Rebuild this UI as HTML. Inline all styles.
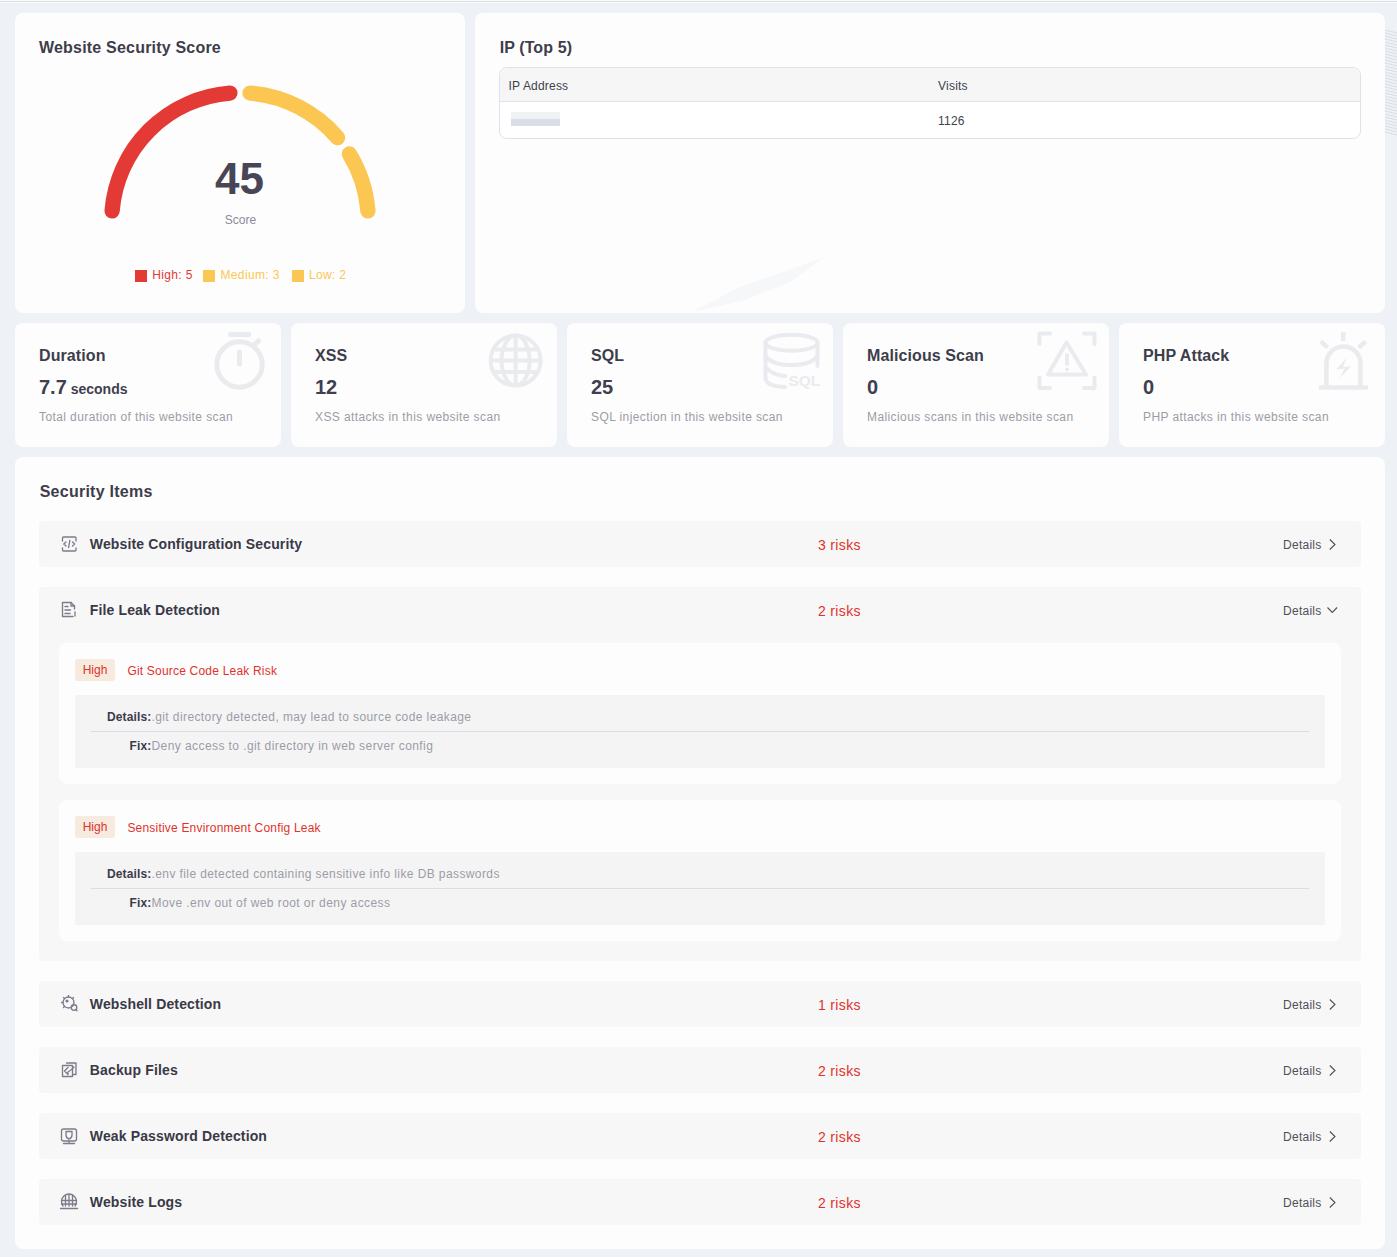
<!DOCTYPE html>
<html><head><meta charset="utf-8">
<style>
*{margin:0;padding:0;box-sizing:border-box}
html,body{width:1397px;height:1257px;overflow:hidden;background:#eef1f5;font-family:"Liberation Sans", sans-serif}
.t{position:absolute;white-space:nowrap}
.card{position:absolute;background:#fdfdfd;border-radius:8px}
.row{position:absolute;left:39px;width:1322px;background:#f7f7f7;border-radius:4px}
svg{position:absolute;left:0;top:0}
</style></head><body>
<div style="position:absolute;left:0;top:0;width:1397px;height:3px;background:#fafbfc"></div>
<div style="position:absolute;left:0;top:1px;width:1397px;height:1px;background:#dde1e6"></div>
<div class="card" style="left:15px;top:13px;width:450px;height:300px"></div>
<div class="card" style="left:475px;top:13px;width:910px;height:300px"></div>
<div class="card" style="left:15px;top:323px;width:266px;height:124px"></div>
<div class="card" style="left:291px;top:323px;width:266px;height:124px"></div>
<div class="card" style="left:567px;top:323px;width:266px;height:124px"></div>
<div class="card" style="left:843px;top:323px;width:266px;height:124px"></div>
<div class="card" style="left:1119px;top:323px;width:266px;height:124px"></div>
<div class="card" style="left:15px;top:457px;width:1370px;height:792px"></div>
<div class="t" style="left:39px;top:39.96px;font-size:16px;line-height:16px;color:#3d3d4b;font-weight:700;letter-spacing:0.2px;">Website Security Score</div>
<div class="t" style="left:215px;top:157.35px;font-size:44px;line-height:44px;color:#484656;font-weight:700;letter-spacing:0px;">45</div>
<div class="t" style="left:224.8px;top:213.64px;font-size:12px;line-height:12px;color:#8d8b9a;">Score</div>
<div style="position:absolute;left:135px;top:270px;width:12px;height:12px;background:#e43a35"></div>
<div class="t" style="left:152.2px;top:269.24px;font-size:12px;line-height:12px;color:#e43a35;letter-spacing:0.35px;">High: 5</div>
<div style="position:absolute;left:203px;top:270px;width:12px;height:12px;background:#fbc752"></div>
<div class="t" style="left:220.5px;top:269.24px;font-size:12px;line-height:12px;color:#fbc752;letter-spacing:0.35px;">Medium: 3</div>
<div style="position:absolute;left:291.6px;top:270px;width:12px;height:12px;background:#fbc752"></div>
<div class="t" style="left:308.9px;top:269.24px;font-size:12px;line-height:12px;color:#fbc752;letter-spacing:0.35px;">Low: 2</div>
<div class="t" style="left:499.7px;top:40.06px;font-size:16px;line-height:16px;color:#3d3d4b;font-weight:700;letter-spacing:0.1px;">IP (Top 5)</div>
<div style="position:absolute;left:499px;top:67px;width:862px;height:72px;border:1px solid #dde3ea;border-radius:8px;background:#fff;overflow:hidden"><div style="position:absolute;left:0;top:0;width:100%;height:34px;background:#f6f6f7;border-bottom:1px solid #dde3ea"></div></div>
<div class="t" style="left:508.5px;top:80.04px;font-size:12px;line-height:12px;color:#41414d;letter-spacing:0.2px;">IP Address</div>
<div class="t" style="left:938.1px;top:80.04px;font-size:12px;line-height:12px;color:#41414d;letter-spacing:0.2px;">Visits</div>
<div class="t" style="left:938.1px;top:115.04px;font-size:12px;line-height:12px;color:#41414d;letter-spacing:0.2px;">1126</div>
<div style="position:absolute;left:511px;top:112px;width:49px;height:7px;background:#f0f1f3"></div>
<div style="position:absolute;left:511px;top:119px;width:49px;height:7px;background:#d9dde5"></div>
<div class="t" style="left:39px;top:348.46px;font-size:16px;line-height:16px;color:#3d3d4b;font-weight:700;letter-spacing:0.1px;">Duration</div>
<div class="t" style="left:39px;top:376.87px;font-size:20px;line-height:20px;color:#3f3f4e;font-weight:700;">7.7<span style="font-size:14px"> seconds</span></div>
<div class="t" style="left:39px;top:410.84px;font-size:12px;line-height:12px;color:#9c9ca6;letter-spacing:0.4px;">Total duration of this website scan</div>
<div class="t" style="left:315px;top:348.46px;font-size:16px;line-height:16px;color:#3d3d4b;font-weight:700;letter-spacing:0.1px;">XSS</div>
<div class="t" style="left:315px;top:376.87px;font-size:20px;line-height:20px;color:#3f3f4e;font-weight:700;">12</div>
<div class="t" style="left:315px;top:410.84px;font-size:12px;line-height:12px;color:#9c9ca6;letter-spacing:0.4px;">XSS attacks in this website scan</div>
<div class="t" style="left:591px;top:348.46px;font-size:16px;line-height:16px;color:#3d3d4b;font-weight:700;letter-spacing:0.1px;">SQL</div>
<div class="t" style="left:591px;top:376.87px;font-size:20px;line-height:20px;color:#3f3f4e;font-weight:700;">25</div>
<div class="t" style="left:591px;top:410.84px;font-size:12px;line-height:12px;color:#9c9ca6;letter-spacing:0.4px;">SQL injection in this website scan</div>
<div class="t" style="left:867px;top:348.46px;font-size:16px;line-height:16px;color:#3d3d4b;font-weight:700;letter-spacing:0.1px;">Malicious Scan</div>
<div class="t" style="left:867px;top:376.87px;font-size:20px;line-height:20px;color:#3f3f4e;font-weight:700;">0</div>
<div class="t" style="left:867px;top:410.84px;font-size:12px;line-height:12px;color:#9c9ca6;letter-spacing:0.4px;">Malicious scans in this website scan</div>
<div class="t" style="left:1143px;top:348.46px;font-size:16px;line-height:16px;color:#3d3d4b;font-weight:700;letter-spacing:0.1px;">PHP Attack</div>
<div class="t" style="left:1143px;top:376.87px;font-size:20px;line-height:20px;color:#3f3f4e;font-weight:700;">0</div>
<div class="t" style="left:1143px;top:410.84px;font-size:12px;line-height:12px;color:#9c9ca6;letter-spacing:0.4px;">PHP attacks in this website scan</div>
<div class="t" style="left:39.7px;top:484.26px;font-size:16px;line-height:16px;color:#3d3d4b;font-weight:700;letter-spacing:0.25px;">Security Items</div>
<div class="row" style="top:521px;height:46px"></div>
<div class="t" style="left:89.8px;top:536.85px;font-size:14px;line-height:14px;color:#393947;font-weight:700;letter-spacing:0.14px;">Website Configuration Security</div>
<div class="t" style="left:818px;top:537.55px;font-size:14px;line-height:14px;color:#e1312b;letter-spacing:0.34px;">3 risks</div>
<div class="t" style="left:1283.1px;top:538.74px;font-size:12px;line-height:12px;color:#4f4f5a;letter-spacing:0.25px;">Details</div>
<div class="row" style="top:587px;height:374px"></div>
<div class="t" style="left:89.8px;top:602.85px;font-size:14px;line-height:14px;color:#393947;font-weight:700;letter-spacing:0.14px;">File Leak Detection</div>
<div class="t" style="left:818px;top:603.55px;font-size:14px;line-height:14px;color:#e1312b;letter-spacing:0.34px;">2 risks</div>
<div class="t" style="left:1283.1px;top:604.74px;font-size:12px;line-height:12px;color:#4f4f5a;letter-spacing:0.25px;">Details</div>
<div class="row" style="top:981px;height:46px"></div>
<div class="t" style="left:89.8px;top:996.85px;font-size:14px;line-height:14px;color:#393947;font-weight:700;letter-spacing:0.14px;">Webshell Detection</div>
<div class="t" style="left:818px;top:997.55px;font-size:14px;line-height:14px;color:#e1312b;letter-spacing:0.34px;">1 risks</div>
<div class="t" style="left:1283.1px;top:998.74px;font-size:12px;line-height:12px;color:#4f4f5a;letter-spacing:0.25px;">Details</div>
<div class="row" style="top:1047px;height:46px"></div>
<div class="t" style="left:89.8px;top:1062.85px;font-size:14px;line-height:14px;color:#393947;font-weight:700;letter-spacing:0.14px;">Backup Files</div>
<div class="t" style="left:818px;top:1063.55px;font-size:14px;line-height:14px;color:#e1312b;letter-spacing:0.34px;">2 risks</div>
<div class="t" style="left:1283.1px;top:1064.74px;font-size:12px;line-height:12px;color:#4f4f5a;letter-spacing:0.25px;">Details</div>
<div class="row" style="top:1113px;height:46px"></div>
<div class="t" style="left:89.8px;top:1128.85px;font-size:14px;line-height:14px;color:#393947;font-weight:700;letter-spacing:0.14px;">Weak Password Detection</div>
<div class="t" style="left:818px;top:1129.55px;font-size:14px;line-height:14px;color:#e1312b;letter-spacing:0.34px;">2 risks</div>
<div class="t" style="left:1283.1px;top:1130.74px;font-size:12px;line-height:12px;color:#4f4f5a;letter-spacing:0.25px;">Details</div>
<div class="row" style="top:1179px;height:46px"></div>
<div class="t" style="left:89.8px;top:1194.85px;font-size:14px;line-height:14px;color:#393947;font-weight:700;letter-spacing:0.14px;">Website Logs</div>
<div class="t" style="left:818px;top:1195.55px;font-size:14px;line-height:14px;color:#e1312b;letter-spacing:0.34px;">2 risks</div>
<div class="t" style="left:1283.1px;top:1196.74px;font-size:12px;line-height:12px;color:#4f4f5a;letter-spacing:0.25px;">Details</div>
<div style="position:absolute;left:59px;top:643px;width:1282px;height:141px;background:#fdfdfd;border-radius:8px"></div>
<div style="position:absolute;left:75px;top:659px;width:40px;height:22px;background:#f7ebdf;border-radius:2px"></div>
<div class="t" style="left:82.7px;top:663.59px;font-size:12px;line-height:12px;color:#e1312b;">High</div>
<div class="t" style="left:127.4px;top:665.04px;font-size:12px;line-height:12px;color:#e1312b;letter-spacing:0.2px;">Git Source Code Leak Risk</div>
<div style="position:absolute;left:75px;top:695px;width:1250px;height:73px;background:#f4f4f5"></div>
<div style="position:absolute;left:91px;top:731px;width:1218px;height:1px;background:#d8dee6"></div>
<div class="t" style="left:75px;top:711.34px;font-size:12px;line-height:12px;color:#3c3c4a;font-weight:700;width:76.5px;text-align:right;letter-spacing:0.15px;">Details:</div>
<div class="t" style="left:151.5px;top:711.34px;font-size:12px;line-height:12px;color:#9c9ca6;letter-spacing:0.4px;">.git directory detected, may lead to source code leakage</div>
<div class="t" style="left:75px;top:739.84px;font-size:12px;line-height:12px;color:#3c3c4a;font-weight:700;width:76.5px;text-align:right;letter-spacing:0.15px;">Fix:</div>
<div class="t" style="left:151.5px;top:739.84px;font-size:12px;line-height:12px;color:#9c9ca6;letter-spacing:0.42px;">Deny access to .git directory in web server config</div>
<div style="position:absolute;left:59px;top:800px;width:1282px;height:141px;background:#fdfdfd;border-radius:8px"></div>
<div style="position:absolute;left:75px;top:816px;width:40px;height:22px;background:#f7ebdf;border-radius:2px"></div>
<div class="t" style="left:82.7px;top:820.59px;font-size:12px;line-height:12px;color:#e1312b;">High</div>
<div class="t" style="left:127.4px;top:822.04px;font-size:12px;line-height:12px;color:#e1312b;letter-spacing:0.2px;">Sensitive Environment Config Leak</div>
<div style="position:absolute;left:75px;top:852px;width:1250px;height:73px;background:#f4f4f5"></div>
<div style="position:absolute;left:91px;top:888px;width:1218px;height:1px;background:#d8dee6"></div>
<div class="t" style="left:75px;top:868.34px;font-size:12px;line-height:12px;color:#3c3c4a;font-weight:700;width:76.5px;text-align:right;letter-spacing:0.15px;">Details:</div>
<div class="t" style="left:151.5px;top:868.34px;font-size:12px;line-height:12px;color:#9c9ca6;letter-spacing:0.4px;">.env file detected containing sensitive info like DB passwords</div>
<div class="t" style="left:75px;top:896.84px;font-size:12px;line-height:12px;color:#3c3c4a;font-weight:700;width:76.5px;text-align:right;letter-spacing:0.15px;">Fix:</div>
<div class="t" style="left:151.5px;top:896.84px;font-size:12px;line-height:12px;color:#9c9ca6;letter-spacing:0.42px;">Move .env out of web root or deny access</div>
<svg width="1397" height="1257" viewBox="0 0 1397 1257" style="pointer-events:none">
<path d="M112.10 210.93 A128.3 128.3 0 0 1 229.93 93.10" fill="none" stroke="#e43a35" stroke-width="15.3" stroke-linecap="round"/>
<path d="M250.07 93.10 A128.3 128.3 0 0 1 337.56 137.68" fill="none" stroke="#fbc752" stroke-width="15.3" stroke-linecap="round"/>
<path d="M349.39 153.96 A128.3 128.3 0 0 1 367.90 210.93" fill="none" stroke="#fbc752" stroke-width="15.3" stroke-linecap="round"/>
<g fill="none" stroke="#eaebee" stroke-width="5" stroke-linecap="round"><circle cx="239.5" cy="364.5" r="22.7"/><line x1="230.5" y1="334.5" x2="248.8" y2="334.5"/><line x1="239.5" y1="352" x2="239.5" y2="364"/><line x1="255" y1="344" x2="258.5" y2="341"/></g>
<g fill="none" stroke="#eaebee" stroke-width="4"><circle cx="515.6" cy="360.6" r="25"/><ellipse cx="515.6" cy="360.6" rx="14" ry="25"/><line x1="515.6" y1="335.6" x2="515.6" y2="385.6"/><line x1="490.6" y1="360.6" x2="540.6" y2="360.6"/><line x1="494" y1="349.5" x2="537" y2="349.5"/><line x1="494" y1="372" x2="537" y2="372"/></g>
<g fill="none" stroke="#eaebee" stroke-width="4" stroke-linecap="round"><ellipse cx="791.5" cy="342.8" rx="26" ry="8"/><path d="M765.5 342.8 V378 Q765.5 386 785 387"/><path d="M817.5 342.8 V366"/><path d="M765.5 356 Q772 365 791.5 365 Q811 365 817.5 356"/><path d="M765.5 367 Q772 375 785 376"/></g><text x="788.4" y="386" font-family="Liberation Sans" font-weight="700" font-size="15.5" fill="#eaebee">SQL</text>
<g fill="none" stroke="#eaebee" stroke-width="4" stroke-linecap="round" stroke-linejoin="round"><path d="M1039.5 344 V333.5 H1050"/><path d="M1084 333.5 H1094.5 V344"/><path d="M1039.5 377.5 V388 H1050"/><path d="M1084 388 H1094.5 V377.5"/><path d="M1066.5 342.5 L1086 374.5 H1048 Z"/><line x1="1067" y1="355" x2="1067" y2="364"/><line x1="1067" y1="369.5" x2="1067" y2="369.6"/></g>
<g fill="none" stroke="#eaebee" stroke-width="4.5"><path d="M1326.4 387 V363.4 A17 17 0 0 1 1360.4 363.4 V387"/><line x1="1319" y1="387.5" x2="1368" y2="387.5"/><line x1="1343.2" y1="332" x2="1343.2" y2="341"/><line x1="1320.6" y1="341.5" x2="1327.8" y2="347.5"/><line x1="1365.8" y1="341.5" x2="1358.6" y2="347.5"/></g><path d="M1346.7 357.8 L1336.2 369.5 L1344.5 368.5 L1339.5 378.5 L1351.2 366.2 L1343 367 Z" fill="#eaebee"/>
<path d="M1329.8 539.5 L1335 544.5 L1329.8 549.5" fill="none" stroke="#4f4f5a" stroke-width="1.1"/>
<path d="M1327.5 607.5 L1332.3 612.5 L1337.1 607.5" fill="none" stroke="#4f4f5a" stroke-width="1.1"/>
<path d="M1329.8 999.5 L1335 1004.5 L1329.8 1009.5" fill="none" stroke="#4f4f5a" stroke-width="1.1"/>
<path d="M1329.8 1065.5 L1335 1070.5 L1329.8 1075.5" fill="none" stroke="#4f4f5a" stroke-width="1.1"/>
<path d="M1329.8 1131.5 L1335 1136.5 L1329.8 1141.5" fill="none" stroke="#4f4f5a" stroke-width="1.1"/>
<path d="M1329.8 1197.5 L1335 1202.5 L1329.8 1207.5" fill="none" stroke="#4f4f5a" stroke-width="1.1"/>
<g fill="none" stroke="#7f7b8c" stroke-width="1.35" stroke-linecap="round" stroke-linejoin="round"><path d="M62.5 541 V538 Q62.5 537 63.5 537 H75 Q76 537 76 538 V541"/><path d="M62.5 548 V550 Q62.5 551 63.5 551 H75 Q76 551 76 550 V548"/><path d="M66 542 L63.8 544 L66 546"/><path d="M72.5 542 L74.7 544 L72.5 546"/><line x1="69.8" y1="540.5" x2="68.6" y2="547.5"/></g>
<g fill="none" stroke="#7f7b8c" stroke-width="1.35" stroke-linecap="round" stroke-linejoin="round"><path d="M74.5 609 V606 L71 602.5 H62.5 V616.5 H73"/><path d="M71 602.5 V606 H74.5"/><line x1="65" y1="606.5" x2="68" y2="606.5"/><line x1="65" y1="610" x2="70.5" y2="610"/><line x1="65" y1="613.5" x2="70" y2="613.5"/><line x1="75" y1="612" x2="75" y2="616"/></g>
<g fill="none" stroke="#7f7b8c" stroke-width="1.35" stroke-linecap="round"><circle cx="68.5" cy="1002.5" r="5.5"/><line x1="68.5" y1="995.5" x2="68.5" y2="997"/><line x1="61.5" y1="1002.5" x2="63" y2="1002.5"/><line x1="63.5" y1="997.5" x2="64.5" y2="998.5"/><line x1="73.5" y1="997.5" x2="72.5" y2="998.5"/><line x1="63.5" y1="1007.5" x2="64.5" y2="1006.5"/><circle cx="74" cy="1007.5" r="2.8"/><line x1="76" y1="1009.5" x2="77" y2="1010.8"/></g><circle cx="67" cy="1001" r="1.6" fill="#7f7b8c"/>
<g fill="none" stroke="#7f7b8c" stroke-width="1.35" stroke-linecap="round" stroke-linejoin="round"><path d="M66.5 1063 H76 V1074.5 H73"/><rect x="62.5" y="1065.5" width="10" height="11"/><path d="M68 1067.5 L64.5 1071 L68 1074.5 V1072 L71.5 1069.5 L74 1067"/></g>
<g fill="none" stroke="#7f7b8c" stroke-width="1.35" stroke-linecap="round" stroke-linejoin="round"><rect x="61.5" y="1129" width="15" height="12" rx="2"/><line x1="69" y1="1141" x2="69" y2="1143.5"/><line x1="63.5" y1="1143.5" x2="74.5" y2="1143.5"/><path d="M66 1131.5 H72 V1135 Q72 1138 69 1139 Q66 1138 66 1135 Z"/></g>
<g fill="none" stroke="#7f7b8c" stroke-width="1.35" stroke-linecap="round"><path d="M63 1206 A7.5 7.5 0 1 1 75 1206"/><line x1="61.5" y1="1200.5" x2="76.5" y2="1200.5"/><line x1="61.5" y1="1204" x2="76.5" y2="1204"/><line x1="65.5" y1="1195.5" x2="65.5" y2="1206"/><line x1="69" y1="1194.5" x2="69" y2="1206"/><line x1="72.5" y1="1195.5" x2="72.5" y2="1206"/><line x1="60.5" y1="1208.5" x2="77.5" y2="1208.5"/></g>
<g stroke="#d9dee6" stroke-width="1.2"><line x1="1385" y1="30" x2="1397" y2="33"/><line x1="1385" y1="33" x2="1397" y2="36"/><line x1="1385" y1="36" x2="1397" y2="39"/><line x1="1385" y1="39" x2="1397" y2="42"/><line x1="1385" y1="42" x2="1397" y2="45"/><line x1="1385" y1="45" x2="1397" y2="48"/><line x1="1385" y1="48" x2="1397" y2="51"/><line x1="1385" y1="51" x2="1397" y2="54"/><line x1="1385" y1="54" x2="1397" y2="57"/><line x1="1385" y1="57" x2="1397" y2="60"/><line x1="1385" y1="60" x2="1397" y2="63"/><line x1="1385" y1="63" x2="1397" y2="66"/><line x1="1385" y1="66" x2="1397" y2="69"/><line x1="1385" y1="69" x2="1397" y2="72"/><line x1="1385" y1="72" x2="1397" y2="75"/><line x1="1385" y1="75" x2="1397" y2="78"/><line x1="1385" y1="78" x2="1397" y2="81"/><line x1="1385" y1="81" x2="1397" y2="84"/><line x1="1385" y1="84" x2="1397" y2="87"/><line x1="1385" y1="87" x2="1397" y2="90"/><line x1="1385" y1="90" x2="1397" y2="93"/><line x1="1385" y1="93" x2="1397" y2="96"/><line x1="1385" y1="96" x2="1397" y2="99"/><line x1="1385" y1="99" x2="1397" y2="102"/><line x1="1385" y1="102" x2="1397" y2="105"/><line x1="1385" y1="105" x2="1397" y2="108"/><line x1="1385" y1="108" x2="1397" y2="111"/><line x1="1385" y1="111" x2="1397" y2="114"/><line x1="1385" y1="114" x2="1397" y2="117"/><line x1="1385" y1="117" x2="1397" y2="120"/><line x1="1385" y1="120" x2="1397" y2="123"/><line x1="1385" y1="123" x2="1397" y2="126"/><line x1="1385" y1="126" x2="1397" y2="129"/><line x1="1385" y1="129" x2="1397" y2="132"/><line x1="1385" y1="132" x2="1397" y2="135"/></g>
<path d="M692 312 L740 287 L823 258 L790 282 L745 300 Z" fill="#eef0f4" opacity="0.45"/>
</svg>
</body></html>
